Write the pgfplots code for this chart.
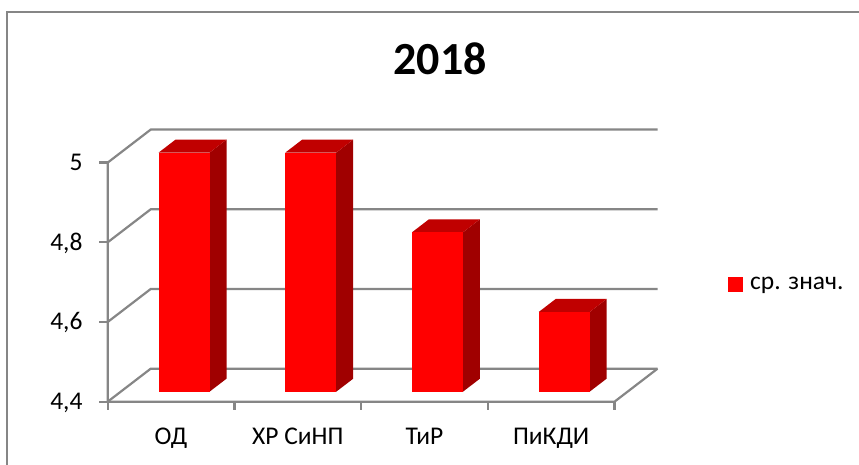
\documentclass[border=0pt]{standalone}
\usepackage{pgfplots}
\pgfplotsset{compat=1.18}
\usepackage{fontspec}
\setmainfont{Carlito}
\usetikzlibrary{calc}
\definecolor{barfront}{RGB}{255,0,0}
\definecolor{bartop}{RGB}{192,0,0}
\definecolor{barside}{RGB}{160,0,0}
\definecolor{gridc}{RGB}{134,134,134}
\newcommand{\lbl}{\fontsize{25.5}{30}\selectfont}
% #1 left x, #2 right x, #3 value
\newcommand{\drawbar}[3]{%
 \addplot3[draw=none, fill=barside, mark=none] coordinates {(#2,0.303,4.4) (#2,0.698,4.4) (#2,0.698,#3) (#2,0.303,#3)} -- cycle;
 \addplot3[draw=none, fill=bartop, mark=none] coordinates {(#1,0.303,#3) (#2,0.303,#3) (#2,0.698,#3) (#1,0.698,#3)} -- cycle;
 \addplot3[draw=none, fill=barfront, mark=none] coordinates {(#1,0.303,4.4) (#2,0.303,4.4) (#2,0.303,#3) (#1,0.303,#3)} -- cycle;
}
\begin{document}
\begin{tikzpicture}
\begin{axis}[
 hide axis, clip=false,
 x={(126.7pt,0pt)}, y={(43pt,33pt)}, z={(0pt,398.5pt)},
 xmin=-0.5, xmax=3.5, ymin=0, ymax=1, zmin=4.4, zmax=5,
]
% walls and gridlines
\pgfplotsinvokeforeach{4.4,4.6,4.8,5}{
 \draw[gridc, line width=2.2pt] (axis cs:-0.5,0,#1) -- (axis cs:-0.5,1,#1) -- (axis cs:3.5,1,#1);
 \draw[gridc, line width=2.2pt] (axis cs:-0.5,0,#1) -- ++(-8.4pt,0pt);
}
\draw[gridc, line width=2.2pt] (axis cs:-0.5,0,5) -- (axis cs:-0.5,0,4.4) -- (axis cs:3.5,0,4.4) -- (axis cs:3.5,1,4.4);
\pgfplotsinvokeforeach{-0.5,0.5,1.5,2.5,3.5}{
 \draw[gridc, line width=2.2pt] (axis cs:#1,0,4.4) -- ++(0pt,-8pt);
}
% bars: ОД 5, ХР СиНП 5, ТиР 4.8, ПиКДИ 4.6
\drawbar{-0.201}{0.201}{5}
\drawbar{0.799}{1.201}{5}
\drawbar{1.799}{2.201}{4.8}
\drawbar{2.799}{3.201}{4.6}
% tick labels
\node[anchor=base east, inner sep=0, font=\lbl, xshift=-25pt, yshift=-8pt] at (axis cs:-0.5,0,4.4) {4,4};
\node[anchor=base east, inner sep=0, font=\lbl, xshift=-25pt, yshift=-8pt] at (axis cs:-0.5,0,4.6) {4,6};
\node[anchor=base east, inner sep=0, font=\lbl, xshift=-25pt, yshift=-8pt] at (axis cs:-0.5,0,4.8) {4,8};
\node[anchor=base east, inner sep=0, font=\lbl, xshift=-25pt, yshift=-8pt] at (axis cs:-0.5,0,5) {5};
\node[anchor=base, inner sep=0, font=\lbl, yshift=-43.3pt] at (axis cs:0,0,4.4) {ОД};
\node[anchor=base, inner sep=0, font=\lbl, yshift=-43.3pt] at (axis cs:1,0,4.4) {ХР СиНП};
\node[anchor=base, inner sep=0, font=\lbl, yshift=-43.3pt] at (axis cs:2,0,4.4) {ТиР};
\node[anchor=base, inner sep=0, font=\lbl, yshift=-43.3pt] at (axis cs:3,0,4.4) {ПиКДИ};
\coordinate (O) at (axis cs:-0.5,0,4.4);
\end{axis}
\pgfresetboundingbox
\begin{scope}[shift={($(O)+(-107.7pt,-63.3pt)$)}]
\path[use as bounding box] (0,0) rectangle (859pt,465pt);
\draw[gridc, line width=2pt] (7.5pt,0) -- (7.5pt,453pt) -- (859pt,453pt);
\node[anchor=base, inner sep=0, font=\fontsize{46}{54}\selectfont\bfseries] at (440pt,390pt) {2018};
\fill[barfront] (727.7pt,173.3pt) rectangle (743pt,188pt);
\node[anchor=base west, inner sep=0, font=\lbl] at (750pt,175pt) {ср. знач.};
\end{scope}
\end{tikzpicture}
\end{document}
